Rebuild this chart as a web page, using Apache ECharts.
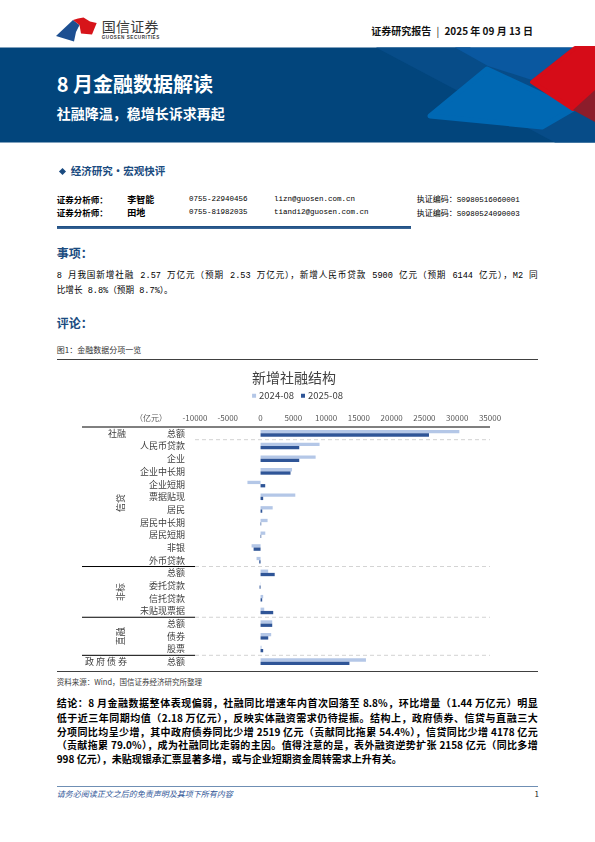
<!DOCTYPE html>
<html><head><meta charset="utf-8">
<script src="https://cdn.jsdelivr.net/npm/echarts@6/dist/echarts.min.js"></script>
<style>
html,body{margin:0;padding:0;background:#fff;}
body{width:595px;height:842px;position:relative;overflow:hidden;font-family:"Noto Sans CJK SC",sans-serif;color:#000;}
.a{position:absolute;white-space:nowrap;line-height:1;}
.mono{font-family:"Liberation Mono","Noto Sans CJK SC",monospace;}
.j{text-align:justify;text-align-last:justify;white-space:normal;}
</style></head><body>

<svg width="595" height="145" style="position:absolute;left:0;top:0">
  <polygon fill="#1d4f91" points="56,36 73,20 79.5,25 76,32 74,41.5"/>
  <polygon fill="#d7141a" points="73,20 78,18.5 83.5,17.5 90,21.5 96.7,23 92,34.5 81,33.5 79.5,25"/>
  <rect x="0" y="47.5" width="595" height="95" fill="#02457c"/>
  <polygon fill="#074c88" points="376,47.5 470,47.5 595,112 595,142.5 555,142.5"/>
  <polygon fill="#0a58a0" points="455,47.5 573,47.5 532,80 488,66"/>
  <polygon fill="#0068b3" stroke="#0068b3" stroke-width="5" stroke-linejoin="round" points="430,116 487,69 573,109 542,127"/>
  <polygon fill="#d60c18" stroke="#d60c18" stroke-width="4" stroke-linejoin="round" points="532,82 575,48 595,48 595,90 573,109"/>
  <polygon fill="#8c1d2b" points="573,110 595,90 595,122"/>
</svg>
<div class="a" style="left:101.7px;top:19px;font-size:14px;color:#3a3a3a;letter-spacing:0.3px">国信证券</div>
<div class="a" style="left:101.7px;top:35.5px;font-size:4.6px;font-weight:bold;color:#3a3a3a;letter-spacing:0.55px;font-family:'Liberation Sans'">GUOSEN SECURITIES</div>
<div class="a" style="right:62px;top:26px;font-size:10px;font-weight:bold;color:#111">证券研究报告 <span style="font-weight:normal;margin:0 3px">|</span> 2025 年 09 月 13 日</div>

<div class="a" style="left:56.7px;top:74.3px;font-size:20px;font-weight:bold;color:#fff">8 月金融数据解读</div>
<div class="a" style="left:56.7px;top:106.3px;font-size:14px;font-weight:bold;color:#fff">社融降温，稳增长诉求再起</div>

<div style="position:absolute;left:59.5px;top:168.5px;width:5px;height:5px;background:#1a4b80;transform:rotate(45deg)"></div>
<div class="a" style="left:70.7px;top:165.7px;font-size:10.5px;font-weight:bold;color:#1a4b80">经济研究·宏观快评</div>

<div class="a" style="left:56.7px;top:195px;font-size:8.5px;font-weight:bold">证券分析师：</div>
<div class="a" style="left:127.3px;top:194.8px;font-size:9px;font-weight:bold">李智能</div>
<div class="a mono" style="left:189px;top:195.5px;font-size:7.5px">0755-22940456</div>
<div class="a mono" style="left:274px;top:195.5px;font-size:7.5px">lizn@guosen.com.cn</div>
<div class="a" style="left:416.7px;top:195.3px;font-size:8px">执证编码：<span class="mono" style="font-size:7.5px">S0980516060001</span></div>

<div class="a" style="left:56.7px;top:208.4px;font-size:8.5px;font-weight:bold">证券分析师：</div>
<div class="a" style="left:127.3px;top:208.2px;font-size:9px;font-weight:bold">田地</div>
<div class="a mono" style="left:189px;top:208.9px;font-size:7.5px">0755-81982035</div>
<div class="a mono" style="left:274px;top:208.9px;font-size:7.5px">tiandi2@guosen.com.cn</div>
<div class="a" style="left:416.7px;top:208.7px;font-size:8px">执证编码：<span class="mono" style="font-size:7.5px">S0980524090003</span></div>

<div style="position:absolute;left:57px;top:226px;width:354px;height:3px;background:linear-gradient(#1a4b80,#3d6898)"></div>

<div class="a" style="left:56.7px;top:247.3px;font-size:12px;font-weight:bold;color:#1a4b80">事项：</div>
<div class="a mono j" style="left:56.7px;top:272.4px;width:481px;font-size:8.6px">8 月我国新增社融 2.57 万亿元（预期 2.53 万亿元），新增人民币贷款 5900 亿元（预期 6144 亿元），M2 同</div>
<div class="a mono" style="left:56.7px;top:286.7px;font-size:8.6px">比增长 8.8%（预期 8.7%）。</div>

<div class="a" style="left:56.7px;top:316.7px;font-size:12px;font-weight:bold;color:#1a4b80">评论：</div>

<div class="a" style="left:56.7px;top:346px;font-size:8px;color:#333">图1：金融数据分项一览</div>
<div style="position:absolute;left:56.7px;top:358.8px;width:481.5px;height:1px;background:#404040"></div>

<div id="c" style="position:absolute;left:0;top:360px;width:595px;height:310px"></div>

<div style="position:absolute;left:56.7px;top:671.2px;width:481.5px;height:1px;background:#404040"></div>
<div class="a" style="left:56.7px;top:678px;font-size:7.5px;color:#404040">资料来源：Wind，国信证券经济研究所整理</div>

<div class="a j" style="left:56.7px;top:698.3px;width:481px;font-size:10px;font-weight:bold">结论：8 月金融数据整体表现偏弱，社融同比增速年内首次回落至 8.8%，环比增量（1.44 万亿元）明显</div>
<div class="a j" style="left:56.7px;top:712.5px;width:481px;font-size:10px;font-weight:bold">低于近三年同期均值（2.18 万亿元），反映实体融资需求仍待提振。结构上，政府债券、信贷与直融三大</div>
<div class="a j" style="left:56.7px;top:726.5px;width:481px;font-size:10px;font-weight:bold">分项同比均呈少增，其中政府债券同比少增 2519 亿元（贡献同比拖累 54.4%），信贷同比少增 4178 亿元</div>
<div class="a j" style="left:56.7px;top:740.3px;width:481px;font-size:10px;font-weight:bold">（贡献拖累 79.0%），成为社融同比走弱的主因。值得注意的是，表外融资逆势扩张 2158 亿元（同比多增</div>
<div class="a" style="left:56.7px;top:754.3px;font-size:10px;font-weight:bold">998 亿元），未贴现银承汇票显著多增，或与企业短期资金周转需求上升有关。</div>

<div style="position:absolute;left:56.7px;top:785.5px;width:481.5px;height:1px;background:#6f8fb4"></div>
<div class="a" style="left:56.7px;top:790px;font-size:8px;font-style:italic;color:#2f5597">请务必阅读正文之后的免责声明及其项下所有内容</div>
<div class="a" style="left:534.5px;top:790px;font-size:8px;color:#222">1</div>

<script>
// ---- data ----
const categories = ['总额','人民币贷款','企业','企业中长期','企业短期','票据贴现','居民','居民中长期','居民短期','非银','外币贷款','总额','委托贷款','信托贷款','未贴现票据','总额','债券','股票','总额'];
const seriesNames = ['2024-08','2025-08'];
const v2024 = [30323, 9000, 8400, 4800, -2000, 5300, 1850, 1070, 720, -1370, -610, 1160, 30, 400, 560, 1780, 1620, 150, 16077];
const v2025 = [25693, 5900, 5900, 4570, 710, 400, 260, 100, 100, -1060, -200, 2158, -150, 250, 1930, 1780, 1170, 400, 13558];
const xMin = -10000, xMax = 35000, xInterval = 5000;
const groupNames = ['社融','信贷','非标','直融','政府债券'];
const groupStart = [0, 1, 11, 15, 18];
const groupEnd   = [0, 10, 14, 17, 18];
const groupVertical = [false, true, true, true, false];
const unitLabel = '（亿元）';

const FONT = 'Noto Sans CJK SC';
const chart = echarts.init(document.getElementById('c'), null, {renderer: 'canvas'});
chart.setOption({
  animation: false,
  textStyle: {fontFamily: FONT},
  title: {text: '新增社融结构', left: 252, top: 11, padding: 0,
    textStyle: {fontSize: 14, fontWeight: 'normal', color: '#404040', fontFamily: FONT}},
  legend: {data: seriesNames, left: 'center', top: 31, padding: 0, icon: 'rect',
    itemWidth: 4, itemHeight: 4, itemGap: 7,
    textStyle: {fontSize: 9.5, color: '#404040', padding: [0, 0, 0, -2], fontFamily: FONT}},
  grid: {left: 195, right: 105, top: 67, bottom: 2},
  xAxis: {type: 'value', position: 'top', min: xMin, max: xMax, interval: xInterval,
    axisLabel: {fontSize: 8, color: '#595959', margin: 5, formatter: v => String(v)},
    axisLine: {show: false}, axisTick: {show: false}, splitLine: {show: false}},
  yAxis: {type: 'category', inverse: true, data: categories,
    axisLabel: {fontSize: 9, color: '#404040', margin: 10, interval: 0},
    axisLine: {show: false}, axisTick: {show: false}},
  series: [
    {name: seriesNames[0], type: 'bar', data: v2024, barWidth: 3.3, barGap: '0%', itemStyle: {color: '#B4C7E7'}},
    {name: seriesNames[1], type: 'bar', data: v2025, barWidth: 3.3, barGap: '0%', itemStyle: {color: '#2F5597'}}
  ]
});

// ---- table decorations computed from the axes ----
const py = i => chart.convertToPixel({yAxisIndex: 0}, i);
const px = v => chart.convertToPixel({xAxisIndex: 0}, v);
const half = (py(1) - py(0)) / 2;
const xL = px(xMin), xR = px(xMax);
const leftEdge = 82;
const g = [];
const topY = py(0) - half;
g.push({type: 'line', shape: {x1: leftEdge, y1: topY, x2: xR, y2: topY}, style: {stroke: '#000', lineWidth: 1}});
g.push({type: 'text', x: 151, y: topY - 9.5, style: {text: unitLabel, fontSize: 8, fill: '#595959', fontFamily: FONT,
  align: 'center', verticalAlign: 'middle', textAlign: 'center', textVerticalAlign: 'middle'}});
for (let k = 0; k < groupNames.length; k++) {
  if (k < groupNames.length - 1) {
    const yb = py(groupEnd[k]) + half;
    g.push({type: 'line', shape: {x1: xL, y1: yb, x2: xR, y2: yb}, style: {stroke: '#c8c8c8', lineWidth: 0.8, lineDash: [4, 3]}});
    if (k > 0) g.push({type: 'line', shape: {x1: leftEdge, y1: yb, x2: xL, y2: yb}, style: {stroke: '#000', lineWidth: 1}});
  }
  const yc = (py(groupStart[k]) + py(groupEnd[k])) / 2;
  const vertical = groupVertical[k];
  const txt = vertical ? groupNames[k] : (groupNames[k].length > 2 ? groupNames[k].split('').join(' ') : groupNames[k]);
  g.push({type: 'text', x: vertical ? 121 : (groupNames[k].length > 2 ? 106 : 117), y: yc,
    rotation: vertical ? Math.PI / 2 : 0,
    style: {text: txt, fontSize: 9, fill: '#404040', fontFamily: FONT,
      align: 'center', verticalAlign: 'middle', textAlign: 'center', textVerticalAlign: 'middle'}});
}
chart.setOption({graphic: g});
</script>
</body></html>
